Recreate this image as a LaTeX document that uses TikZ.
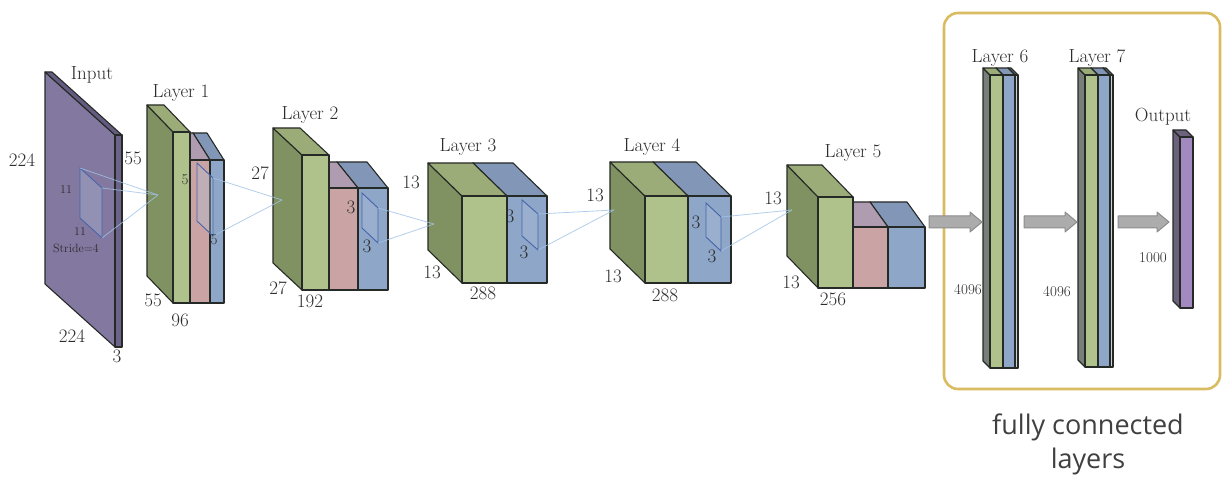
\documentclass[tikz,border=0pt]{standalone}
\usepackage{fontspec}
\newfontfamily\fcfont{Open Sans}
\usetikzlibrary{calc}
\definecolor{gF}{RGB}{176,194,140}
\definecolor{gS}{RGB}{128,146,98}
\definecolor{gT}{RGB}{156,172,120}
\definecolor{bF}{RGB}{142,166,200}
\definecolor{bS}{RGB}{108,128,162}
\definecolor{bT}{RGB}{130,150,184}
\definecolor{pF}{RGB}{202,164,164}
\definecolor{pS}{RGB}{170,135,140}
\definecolor{pT}{RGB}{176,156,176}
\definecolor{iF}{RGB}{108,98,138}
\definecolor{iS}{RGB}{130,120,160}
\definecolor{iT}{RGB}{100,92,128}
\definecolor{oF}{RGB}{162,138,192}
\definecolor{oS}{RGB}{108,98,124}
\definecolor{lS}{RGB}{120,126,120}
\definecolor{lG}{RGB}{205,210,214}
\definecolor{edgeC}{RGB}{38,42,38}
\definecolor{kernC}{RGB}{70,100,170}
\definecolor{lineC}{RGB}{160,195,230}
\definecolor{fcgold}{RGB}{218,188,96}
\definecolor{txt}{RGB}{45,45,45}
\definecolor{arrF}{RGB}{172,172,172}
\definecolor{arrD}{RGB}{140,140,140}
\newcommand{\cub}[9]{%
  \filldraw[bx,fill=#8] (#1,#3) -- ++(#5,#6) -- ++(0,{#4-#3}) -- (#1,#4) -- cycle;
  \filldraw[bx,fill=#9] (#1,#3) -- ++(#5,#6) -- ++({#2-#1},0) -- (#2,#3) -- cycle;
  \filldraw[bx,fill=#7] (#1,#3) rectangle (#2,#4);
}
% fat arrow between two named coordinates (horizontal)
\newcommand{\fatarr}[2]{%
  \filldraw[fat] ($(#1)+(0,-6)$) -- ($(#2)+(-12,-6)$) -- ($(#2)+(-12,-10)$) -- (#2)
    -- ($(#2)+(-12,10)$) -- ($(#2)+(-12,6)$) -- ($(#1)+(0,6)$) -- cycle;
}
\tikzset{
  bx/.style={draw=edgeC,line width=1.1pt,line join=round},
  kern/.style={draw=kernC,line width=0.9pt,fill=bF!70!white,fill opacity=0.35},
  conn/.style={draw=lineC,line width=0.8pt,opacity=0.8},
  lab/.style={font=\fontsize{19}{22}\selectfont,text=txt,inner sep=0pt},
  slab/.style={font=\fontsize{15}{18}\selectfont,text=txt,inner sep=0pt},
  tlab/.style={font=\fontsize{12}{14}\selectfont,text=txt,inner sep=0pt},
  fat/.style={draw=arrD,fill=arrF,line width=1pt,line join=round},
  fclab/.style={font=\fcfont\fontsize{27}{34}\selectfont,text=black!75,inner sep=0pt,align=center}
}
\begin{document}
\begin{tikzpicture}[x=1pt,y=-1pt]
\useasboundingbox[fill=white] (0,0) rectangle (1223,486);

% ---------- Input ----------
\cub{115}{122}{135}{347}{-70}{-63}{iF}{iS}{iT}
\filldraw[kern] (80,168) -- (102,188) -- (102,238) -- (80,218) -- cycle;
\coordinate (k0a) at (102,188);
\coordinate (k0b) at (102,238);
\coordinate (k0c) at (80,168);

% ---------- Layer 1 ----------
\cub{210}{224}{160}{303}{-17}{-27}{bF}{bS}{bT}
\cub{190}{210}{160}{303}{-17}{-27}{pF}{pS}{pT}
\cub{173}{190}{132}{303}{-26}{-27}{gF}{gS}{gT}
\filldraw[kern] (197,163) -- (213,178) -- (213,236) -- (197,221) -- cycle;
\coordinate (t1) at (158,195);
\coordinate (k1a) at (213,178);
\coordinate (k1b) at (213,236);

% ---------- Layer 2 ----------
\cub{358}{388}{188}{290}{-21}{-26}{bF}{bS}{bT}
\cub{329}{358}{188}{290}{-21}{-26}{pF}{pS}{pT}
\cub{302}{329}{155}{290}{-29}{-27}{gF}{gS}{gT}
\filldraw[kern] (362,193) -- (378,208) -- (378,243) -- (362,228) -- cycle;
\coordinate (t2) at (282,200);
\coordinate (k2a) at (378,208);
\coordinate (k2b) at (378,243);

% ---------- Layer 3 ----------
\cub{507}{547}{196}{283}{-34}{-33}{bF}{bS}{bT}
\cub{462}{507}{196}{283}{-34}{-33}{gF}{gS}{gT}
\filldraw[kern] (522,200) -- (538,214) -- (538,250) -- (522,236) -- cycle;
\coordinate (t3) at (434,224);
\coordinate (k3a) at (538,214);
\coordinate (k3b) at (538,250);

% ---------- Layer 4 ----------
\cub{688}{731}{196}{283}{-35}{-34}{bF}{bS}{bT}
\cub{645}{688}{196}{283}{-35}{-34}{gF}{gS}{gT}
\filldraw[kern] (706,203) -- (721,217) -- (721,251) -- (706,237) -- cycle;
\coordinate (t4) at (614,210);
\coordinate (k4a) at (721,217);
\coordinate (k4b) at (721,251);

% ---------- Layer 5 ----------
\cub{888}{925}{227}{288}{-18}{-25}{bF}{bS}{bT}
\cub{853}{888}{227}{288}{-18}{-25}{pF}{pS}{pT}
\cub{818}{853}{197}{288}{-31}{-32}{gF}{gS}{gT}
\coordinate (t5) at (792,210);

% ---------- connectors (receptive fields) ----------
\draw[conn] (k0a) -- (t1);
\draw[conn] (k0b) -- (t1);
\draw[conn] (k0c) -- (t1);
\draw[conn] (k1a) -- (t2);
\draw[conn] (k1b) -- (t2);
\draw[conn] (k2a) -- (t3);
\draw[conn] (k2b) -- (t3);
\draw[conn] (k3a) -- (t4);
\draw[conn] (k3b) -- (t4);
\draw[conn] (k4a) -- (t5);
\draw[conn] (k4b) -- (t5);

% ---------- fully connected box ----------
\draw[draw=fcgold,line width=2.6pt,rounded corners=14pt] (944,13) rectangle (1220,389);

% ---------- Layer 6 ----------
\cub{1015}{1018}{75}{368}{-7}{-7}{lG}{lS}{lS}
\cub{1003}{1015}{75}{368}{-7}{-7}{bF}{lS}{bT}
\cub{990}{1003}{75}{368}{-7}{-7}{gF}{lS}{gT}

% ---------- Layer 7 ----------
\cub{1110}{1113}{75}{367}{-7}{-7}{lG}{lS}{lS}
\cub{1098}{1110}{75}{367}{-7}{-7}{bF}{lS}{bT}
\cub{1085}{1098}{75}{367}{-7}{-7}{gF}{lS}{gT}

% ---------- Output ----------
\cub{1180}{1193}{137}{308}{-7}{-7}{oF}{oS}{oS}

% ---------- fat arrows ----------
\coordinate (l5out) at (929,222);
\coordinate (l6in) at (982,222);
\coordinate (l6out) at (1024,222);
\coordinate (l7in) at (1077,222);
\coordinate (l7out) at (1118,222);
\coordinate (oin) at (1169,222);
\fatarr{l5out}{l6in}
\fatarr{l6out}{l7in}
\fatarr{l7out}{oin}

% ---------- labels ----------
\node[lab] (nIn) at (92,75) {Input};
\node[lab] (n224a) at (22,160) {224};
\node[lab] (n224b) at (72,336) {224};
\node[lab] (n3) at (117,356) {3};
\node[tlab] (n11a) at (66,190) {11};
\node[tlab] (n11b) at (80,232) {11};
\node[tlab] (nStr) at (76,248) {Stride$=$4};

\node[lab] (nL1) at (181,93) {Layer 1};
\node[lab] (n55a) at (133,158) {55};
\node[lab] (n55b) at (153,300) {55};
\node[lab] (n96) at (180,320) {96};
\node[slab] (n5a) at (185,180) {5};
\node[slab] (n5b) at (214,240) {5};

\node[lab] (nL2) at (310,115) {Layer 2};
\node[lab] (n27a) at (260,173) {27};
\node[lab] (n27b) at (278,288) {27};
\node[lab] (n192) at (310,301) {192};
\node[lab] (n3a) at (351,207) {3};
\node[lab] (n3b) at (367,246) {3};

\node[lab] (nL3) at (468,147) {Layer 3};
\node[lab] (n13a) at (411,182) {13};
\node[lab] (n13b) at (432,272) {13};
\node[lab] (n288a) at (483,293) {288};
\node[lab] (n3c) at (510,216) {3};
\node[lab] (n3d) at (524,252) {3};

\node[lab] (nL4) at (652,147) {Layer 4};
\node[lab] (n13c) at (595,195) {13};
\node[lab] (n13d) at (613,276) {13};
\node[lab] (n288b) at (665,295) {288};
\node[lab] (n3e) at (696,222) {3};
\node[lab] (n3f) at (712,256) {3};

\node[lab] (nL5) at (853,153) {Layer 5};
\node[lab] (n13e) at (773,198) {13};
\node[lab] (n13f) at (791,282) {13};
\node[lab] (n256) at (833,299) {256};

\node[lab] (nL6) at (1000,58) {Layer 6};
\node[lab] (nL7) at (1097,58) {Layer 7};
\node[lab] (nOut) at (1163,117) {Output};
\node[slab] (n4096a) at (968,290) {4096};
\node[slab] (n4096b) at (1057,292) {4096};
\node[slab] (n1000) at (1153,258) {1000};

\node[fclab] (nfc) at (1088,444) {fully connected\\layers};
\end{tikzpicture}
\end{document}
